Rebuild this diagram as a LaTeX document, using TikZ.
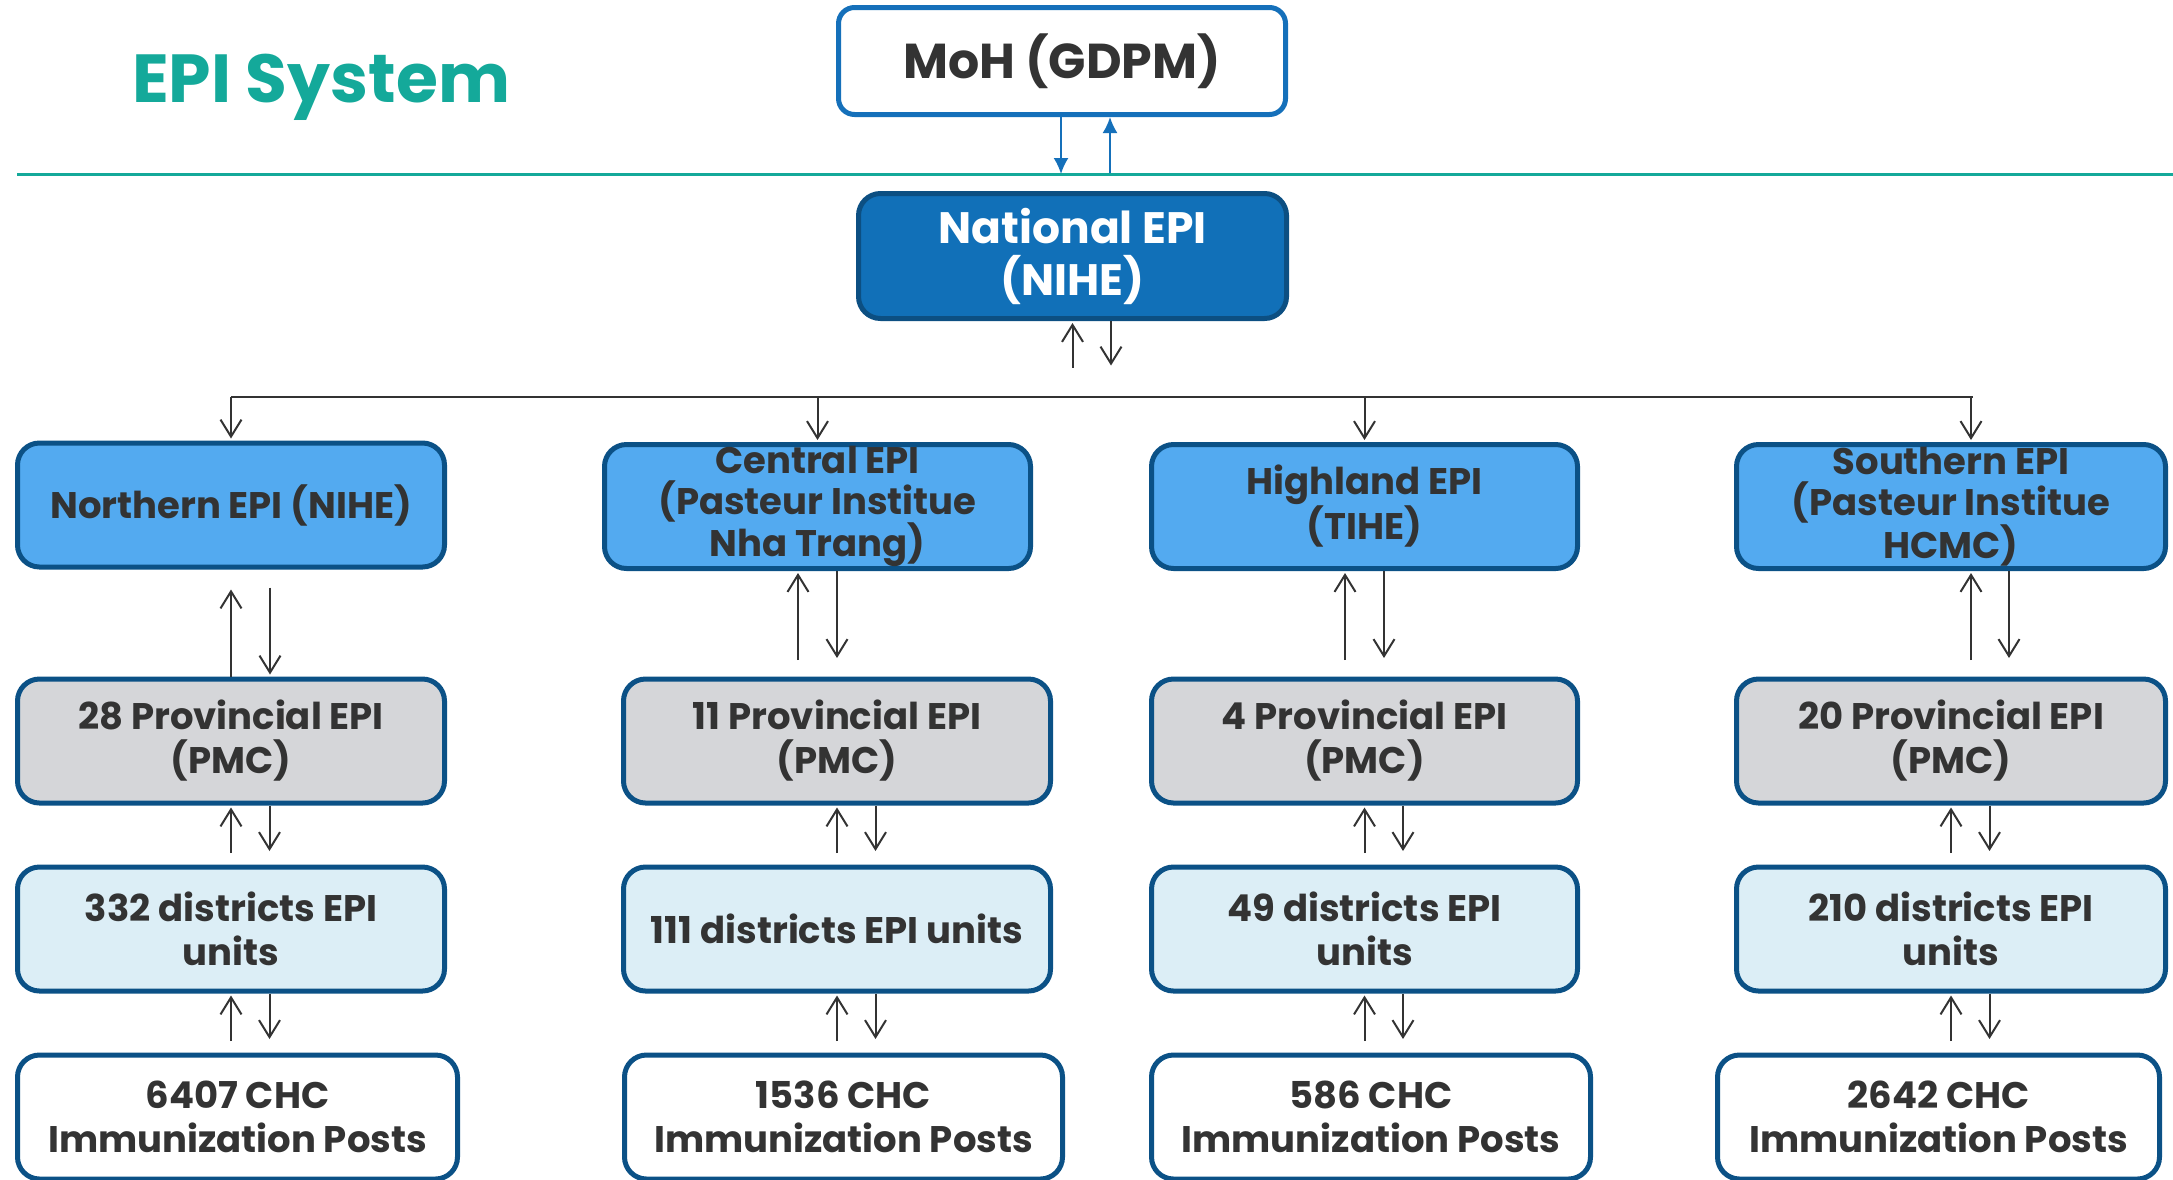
\documentclass[tikz,border=0pt]{standalone}
\usepackage{fontspec}
\setmainfont{Poppins}
\usetikzlibrary{arrows.meta, positioning}

\definecolor{epiteal}{HTML}{14A99A}
\definecolor{mohblue}{HTML}{1570BA}
\definecolor{natfill}{HTML}{1170B8}
\definecolor{natedge}{HTML}{0C4F82}
\definecolor{boxedge}{HTML}{0B5186}
\definecolor{regfill}{HTML}{53AAF0}
\definecolor{provfill}{HTML}{D5D6D9}
\definecolor{distfill}{HTML}{DCEEF6}
\definecolor{txtgray}{HTML}{333333}

\tikzset{
  unit/.style={draw=boxedge, line width=5pt, rounded corners=22pt, inner sep=0pt,
    align=center, text=txtgray, minimum height=124pt,
    font=\fontsize{37pt}{44pt}\selectfont\bfseries},
  region/.style={unit, fill=regfill, font=\fontsize{37pt}{41pt}\selectfont\bfseries},
  province/.style={unit, fill=provfill},
  district/.style={unit, fill=distfill},
  post/.style={unit, fill=white},
  link/.style={draw=txtgray, line width=2pt, shorten >=2pt,
    -{Straight Barb[length=17pt,width=21pt]}},
  bluelink/.style={draw=mohblue, line width=2pt, -{Latex[length=16pt,width=15pt]}},
}

\begin{document}
\begin{tikzpicture}[x=1pt, y=-1pt]
    \useasboundingbox (0,0) rectangle (2173,1179);

    % title and top level
    \node[anchor=base west, inner sep=0pt, text=epiteal,
      font=\fontsize{68pt}{68pt}\selectfont\bfseries] (title) at (132,102) {EPI System};
    \node[draw=mohblue, line width=5pt, rounded corners=16pt, fill=white,
      minimum width=447pt, minimum height=107pt, inner sep=0pt, text=txtgray,
      font=\fontsize{49pt}{52pt}\selectfont\bfseries] (moh) at (1062,61) {MoH (GDPM)};
    \node[draw=natedge, fill=natfill, line width=5pt, rounded corners=22pt,
      minimum width=428pt, minimum height=125pt, inner sep=0pt, align=center,
      text=white, font=\fontsize{44pt}{52pt}\selectfont\bfseries] (nat) at (1072.5,256) {National EPI\\(NIHE)};

    \coordinate (rule) at (17,174);
    \coordinate (bus) at (0,397);
    \draw[epiteal, line width=3pt] (rule) -- (2173,174);

    % regional EPI
    \node[region, minimum width=427pt] (n1) at (231,505) {Northern EPI (NIHE)};
    \node[region, minimum width=426pt] (c1) at (817.5,506.5) {Central EPI\\(Pasteur Institue\\Nha Trang)};
    \node[region, minimum width=426pt] (h1) at (1364.5,506.5) {Highland EPI\\(TIHE)};
    \node[region, minimum width=429pt] (s1) at (1951,506.5) {Southern EPI\\(Pasteur Institue\\HCMC)};

    % provincial EPI
    \node[province, minimum width=427pt] (n2) at (231,741) {28 Provincial EPI\\(PMC)};
    \node[province, minimum width=427pt] (c2) at (837,741) {11 Provincial EPI\\(PMC)};
    \node[province, minimum width=426pt] (h2) at (1364.5,741) {4 Provincial EPI\\(PMC)};
    \node[province, minimum width=429pt] (s2) at (1951,741) {20 Provincial EPI\\(PMC)};

    % districts
    \node[district, minimum width=427pt] (n3) at (231,929) {332 districts EPI\\units};
    \node[district, minimum width=427pt] (c3) at (837,929) {111 districts EPI units};
    \node[district, minimum width=426pt] (h3) at (1364.5,929) {49 districts EPI\\units};
    \node[district, minimum width=429pt] (s3) at (1951,929) {210 districts EPI\\units};

    % CHC posts
    \node[post, minimum width=440pt] (n4) at (237.5,1117) {6407 CHC\\Immunization Posts};
    \node[post, minimum width=438pt] (c4) at (843.5,1117) {1536 CHC\\Immunization Posts};
    \node[post, minimum width=439pt] (h4) at (1371,1117) {586 CHC\\Immunization Posts};
    \node[post, minimum width=442pt] (s4) at (1938.5,1117) {2642 CHC\\Immunization Posts};

    % MoH <-> National
    \draw[bluelink] ([xshift=-1pt]moh.south) -- ([xshift=-1pt]moh.south |- rule);
    \draw[bluelink] ([xshift=48pt,yshift=-56pt]moh.south) -- ([xshift=48pt]moh.south);

    % National <-> regions
    \draw[link] ([yshift=-46.5pt]nat.south) -- (nat.south);
    \draw[link] ([xshift=38.5pt]nat.south) -- ([xshift=38.5pt,yshift=-46.5pt]nat.south);
    \draw[txtgray, line width=2.5pt] (n1.north |- bus) -- ([xshift=22pt]s1.north |- bus);
    \draw[link] (n1.north |- bus) -- (n1.north);
    \draw[link] (c1.north |- bus) -- (c1.north);
    \draw[link] (h1.north |- bus) -- (h1.north);
    \draw[link] ([xshift=20pt]s1.north |- bus) -- ([xshift=20pt]s1.north);

    % regions <-> provinces
    \draw[link] (n2.north) -- ([yshift=-18pt]n1.south);
    \draw[link] ([xshift=39pt,yshift=-18pt]n1.south) -- ([xshift=39pt]n2.north);
    \draw[link] ([xshift=-39pt,yshift=16.5pt]c2.north) -- ([xshift=-19.5pt]c1.south);
    \draw[link] ([xshift=19.5pt]c1.south) -- ([yshift=16.5pt]c2.north);
    \draw[link] ([xshift=-19.5pt,yshift=16.5pt]h2.north) -- ([xshift=-19.5pt]h1.south);
    \draw[link] ([xshift=19.5pt]h1.south) -- ([xshift=19.5pt,yshift=16.5pt]h2.north);
    \draw[link] ([xshift=20pt,yshift=16.5pt]s2.north) -- ([xshift=20pt]s1.south);
    \draw[link] ([xshift=58pt]s1.south) -- ([xshift=58pt,yshift=16.5pt]s2.north);

    % provinces <-> districts
    \draw[link] ([yshift=-47.5pt]n2.south) -- (n2.south);
    \draw[link] ([xshift=38.5pt]n2.south) -- ([xshift=38.5pt,yshift=-47.5pt]n2.south);
    \draw[link] ([yshift=-47.5pt]c2.south) -- (c2.south);
    \draw[link] ([xshift=38.5pt]c2.south) -- ([xshift=38.5pt,yshift=-47.5pt]c2.south);
    \draw[link] ([yshift=-47.5pt]h2.south) -- (h2.south);
    \draw[link] ([xshift=38.5pt]h2.south) -- ([xshift=38.5pt,yshift=-47.5pt]h2.south);
    \draw[link] ([yshift=-47.5pt]s2.south) -- (s2.south);
    \draw[link] ([xshift=38.5pt]s2.south) -- ([xshift=38.5pt,yshift=-47.5pt]s2.south);

    % districts <-> CHC posts
    \draw[link] ([yshift=-47.5pt]n3.south) -- (n3.south);
    \draw[link] ([xshift=38.5pt]n3.south) -- ([xshift=38.5pt,yshift=-47.5pt]n3.south);
    \draw[link] ([yshift=-47.5pt]c3.south) -- (c3.south);
    \draw[link] ([xshift=38.5pt]c3.south) -- ([xshift=38.5pt,yshift=-47.5pt]c3.south);
    \draw[link] ([yshift=-47.5pt]h3.south) -- (h3.south);
    \draw[link] ([xshift=38.5pt]h3.south) -- ([xshift=38.5pt,yshift=-47.5pt]h3.south);
    \draw[link] ([yshift=-47.5pt]s3.south) -- (s3.south);
    \draw[link] ([xshift=38.5pt]s3.south) -- ([xshift=38.5pt,yshift=-47.5pt]s3.south);
\end{tikzpicture}
\end{document}
